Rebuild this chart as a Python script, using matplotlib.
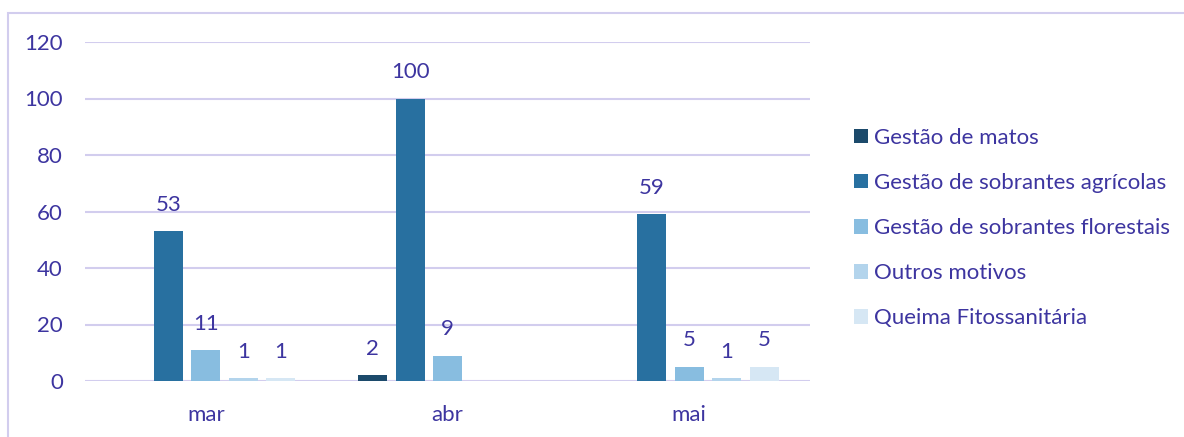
import matplotlib.pyplot as plt
import matplotlib.patches as mpatches
import numpy as np

plt.rcParams['font.family'] = ['Lato', 'DejaVu Sans']

months = ['mar', 'abr', 'mai']
series_names = ['Gestão de matos', 'Gestão de sobrantes agrícolas',
                'Gestão de sobrantes florestais', 'Outros motivos',
                'Queima Fitossanitária']
# None = no value recorded
matos = [None, 2, None]
agricolas = [53, 100, 59]
florestais = [11, 9, 5]
outros = [1, None, 1]
queima = [1, None, 5]
colors = ['#1c4a6b', '#2870a0', '#88bde0', '#b3d4ec', '#d6e7f4']

txt_col = '#3d35a0'
grid_col = '#d2cdee'
fs = 16

fig = plt.figure(figsize=(11.84, 4.37), dpi=100)
ax = fig.add_axes([85/1184, 1-381/437, (810-85)/1184, (381-42)/437])

x = np.arange(len(months))
step = 0.155
width = 0.12
all_series = [matos, agricolas, florestais, outros, queima]
handles = []
for i, (name, vals, c) in enumerate(zip(series_names, all_series, colors)):
    v = np.array([np.nan if a is None else a for a in vals], dtype=float)
    pos = x + (i - 2) * step
    bars = ax.bar(pos, v, width, color=c, label=name, zorder=3)
    handles.append(bars)
    for p, val in zip(pos, v):
        if not np.isnan(val):
            ax.annotate('%d' % val, (p, val), xytext=(0, 19), textcoords='offset points',
                        ha='center', va='center', fontsize=fs, color=txt_col)

ax.set_xlim(-0.5, 2.5)
ax.set_ylim(0, 120)
ax.set_yticks(range(0, 121, 20))
ax.set_xticks(x)
ax.set_xticklabels(months)
ax.tick_params(length=0, labelsize=fs, colors=txt_col)
ax.tick_params(axis='x', pad=17)
ax.tick_params(axis='y', pad=16)
ax.grid(axis='y', color=grid_col, linewidth=1.5, zorder=0)
ax.set_axisbelow(True)
for s in ax.spines.values():
    s.set_visible(False)

leg = fig.legend(handles=handles, labels=series_names, loc='center left',
                 bbox_to_anchor=(834/1184, 1-228/437), frameon=False, fontsize=fs,
                 handlelength=0.64, handleheight=0.64, handletextpad=0.25,
                 labelspacing=1.13, labelcolor=txt_col)

border = mpatches.Rectangle((8/1184, -0.01), 1.0, 0.98, transform=fig.transFigure,
                            fill=False, edgecolor=grid_col, linewidth=1.5)
fig.patches.append(border)

fig.savefig('out.png', dpi=100)
